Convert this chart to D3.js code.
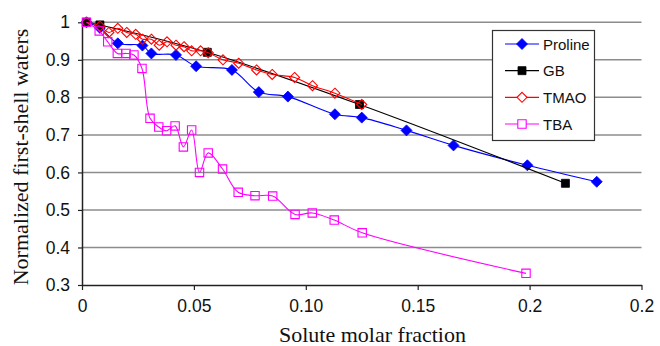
<!DOCTYPE html>
<html><head><meta charset="utf-8">
<script src="https://cdn.jsdelivr.net/npm/d3@7"></script>
<style>
html,body{margin:0;padding:0;background:#fff;}
svg{display:block;}
</style></head>
<body>
<svg id="chart" width="660" height="346"></svg>
<script>
// ---- data ----
const prolineX = [0.002, 0.008, 0.016, 0.027, 0.031, 0.042, 0.051, 0.067, 0.079, 0.092, 0.113, 0.125, 0.145, 0.166, 0.199, 0.230];
const prolineY = [1.0, 0.985, 0.944, 0.938, 0.917, 0.913, 0.883, 0.873, 0.814, 0.802, 0.755, 0.746, 0.712, 0.672, 0.619, 0.575];
const gbX = [0.002, 0.008, 0.056, 0.124, 0.216];
const gbY = [1.0, 0.993, 0.920, 0.781, 0.571];
const tmaoX = [0.002, 0.008, 0.012, 0.016, 0.020, 0.024, 0.027, 0.031, 0.0345, 0.038, 0.042, 0.0456, 0.049, 0.053, 0.0564, 0.063, 0.070, 0.078, 0.085, 0.095, 0.103, 0.113, 0.125];
const tmaoY = [1.0, 0.99, 0.973, 0.984, 0.973, 0.968, 0.955, 0.955, 0.939, 0.948, 0.939, 0.935, 0.924, 0.924, 0.919, 0.900, 0.891, 0.873, 0.861, 0.853, 0.831, 0.811, 0.781];
const tbaX = [0.002, 0.0077, 0.0115, 0.0158, 0.0197, 0.0232, 0.0268, 0.0304, 0.0343, 0.0378, 0.0416, 0.0453, 0.049, 0.0525, 0.0564, 0.0628, 0.0698, 0.0773, 0.0852, 0.0952, 0.1029, 0.1127, 0.1252, 0.1984];
const tbaY = [1.0, 0.977, 0.948, 0.917, 0.917, 0.913, 0.877, 0.744, 0.721, 0.711, 0.724, 0.668, 0.713, 0.600, 0.652, 0.609, 0.547, 0.538, 0.537, 0.488, 0.492, 0.473, 0.439, 0.331];
const seriesNames = ["Proline", "GB", "TMAO", "TBA"];
const xTicks = [0, 0.05, 0.1, 0.15, 0.2, 0.25];
const xTickLabels = ["0", "0.05", "0.10", "0.15", "0.2", "0.2"];
const yTicks = [0.3, 0.4, 0.5, 0.6, 0.7, 0.8, 0.9, 1.0];
const yTickLabels = ["0.3", "0.4", "0.5", "0.6", "0.7", "0.8", "0.9", "1"];

// ---- layout ----
const svg = d3.select("#chart");
const L = 82, R = 641.5, T = 22.3, B = 285;
const x = d3.scaleLinear().domain([0, 0.25]).range([L, R]);
const y = d3.scaleLinear().domain([0.3, 1.0]).range([B, T]);
const SANS = "'Liberation Sans', Arial, sans-serif";
const SERIF = "'Liberation Serif', 'Times New Roman', serif";

// gridlines
svg.append("g").selectAll("line").data(yTicks.filter(v => v > 0.3)).join("line")
  .attr("x1", L).attr("x2", R).attr("y1", d => y(d)).attr("y2", d => y(d))
  .attr("stroke", "#8c8c8c").attr("stroke-width", 1.5);

// axes
const xAxis = d3.axisBottom(x).tickValues(xTicks).tickSize(5).tickSizeOuter(0)
  .tickFormat((d, i) => xTickLabels[i]);
const gx = svg.append("g").attr("transform", `translate(0,${B})`).call(xAxis);
gx.select(".domain").attr("stroke", "#222").attr("stroke-width", 1.5);
gx.selectAll(".tick line").attr("stroke", "#222").attr("stroke-width", 1.2);
gx.selectAll(".tick text").attr("font-family", SANS).attr("font-size", 17.5).attr("fill", "#111").attr("y", 15);

const yAxis = d3.axisLeft(y).tickValues(yTicks).tickSize(4).tickSizeOuter(0)
  .tickFormat((d, i) => yTickLabels[i]);
const gy = svg.append("g").attr("transform", `translate(${L},0)`).call(yAxis);
gy.select(".domain").attr("stroke", "#222").attr("stroke-width", 1.5);
gy.selectAll(".tick line").attr("stroke", "#222").attr("stroke-width", 1.2);
gy.selectAll(".tick text").attr("font-family", SANS).attr("font-size", 17.5).attr("fill", "#111").attr("x", -12);

// axis titles
svg.append("text").attr("x", 372.5).attr("y", 342).attr("text-anchor", "middle")
  .attr("font-family", SERIF).attr("font-size", 22).attr("fill", "#111").text("Solute molar fraction");
svg.append("text").attr("transform", "translate(28,157) rotate(-90)").attr("text-anchor", "middle")
  .attr("font-family", SERIF).attr("font-size", 22).attr("fill", "#111").text("Normalized first-shell waters");

// series
const series = [
  {name: seriesNames[0], xs: prolineX, ys: prolineY, color: "#0000ff", marker: "diamond", fill: "#0000ff", size: 5.5},
  {name: seriesNames[1], xs: gbX, ys: gbY, color: "#000000", marker: "square", fill: "#000000", size: 4},
  {name: seriesNames[2], xs: tmaoX, ys: tmaoY, color: "#ff0000", marker: "diamond", fill: "none", size: 5},
  {name: seriesNames[3], xs: tbaX, ys: tbaY, color: "#ff00ff", marker: "square", fill: "none", size: 4.2}
];
function markerPath(type, s) {
  if (type === "diamond") return `M0,${-s}L${s},0L0,${s}L${-s},0Z`;
  return `M${-s},${-s}L${s},${-s}L${s},${s}L${-s},${s}Z`;
}
const line = d3.line().x(d => x(d[0])).y(d => y(d[1])).curve(d3.curveCatmullRom.alpha(0.5));
series.forEach(s => {
  const pts = s.xs.map((v, i) => [v, s.ys[i]]);
  const g = svg.append("g");
  g.append("path").datum(pts).attr("d", line).attr("fill", "none")
    .attr("stroke", s.color).attr("stroke-width", 1.1);
  g.selectAll("path.m").data(pts).join("path").attr("class", "m")
    .attr("transform", d => `translate(${x(d[0])},${y(d[1])})`)
    .attr("d", markerPath(s.marker, s.size))
    .attr("fill", s.fill === "none" ? "none" : s.fill)
    .attr("stroke", s.color).attr("stroke-width", s.fill === "none" ? 1.1 : 0.8);
});

// legend
const lg = svg.append("g");
lg.append("rect").attr("x", 492.5).attr("y", 30.5).attr("width", 102).attr("height", 110)
  .attr("fill", "#fff").attr("stroke", "#333").attr("stroke-width", 1.2);
const legY = d3.scalePoint().domain(seriesNames).range([44, 124]);
series.forEach(s => {
  const yy = legY(s.name);
  lg.append("line").attr("x1", 505).attr("x2", 539).attr("y1", yy).attr("y2", yy)
    .attr("stroke", s.color).attr("stroke-width", 1.1);
  lg.append("path").attr("transform", `translate(522,${yy})`).attr("d", markerPath(s.marker, s.size))
    .attr("fill", s.fill === "none" ? "#fff" : s.fill).attr("stroke", s.color)
    .attr("stroke-width", s.fill === "none" ? 1.1 : 0.8);
  lg.append("text").attr("x", 543).attr("y", yy + 5.5).attr("font-family", SANS)
    .attr("font-size", 15).attr("fill", "#111").text(s.name);
});
</script>
</body></html>
